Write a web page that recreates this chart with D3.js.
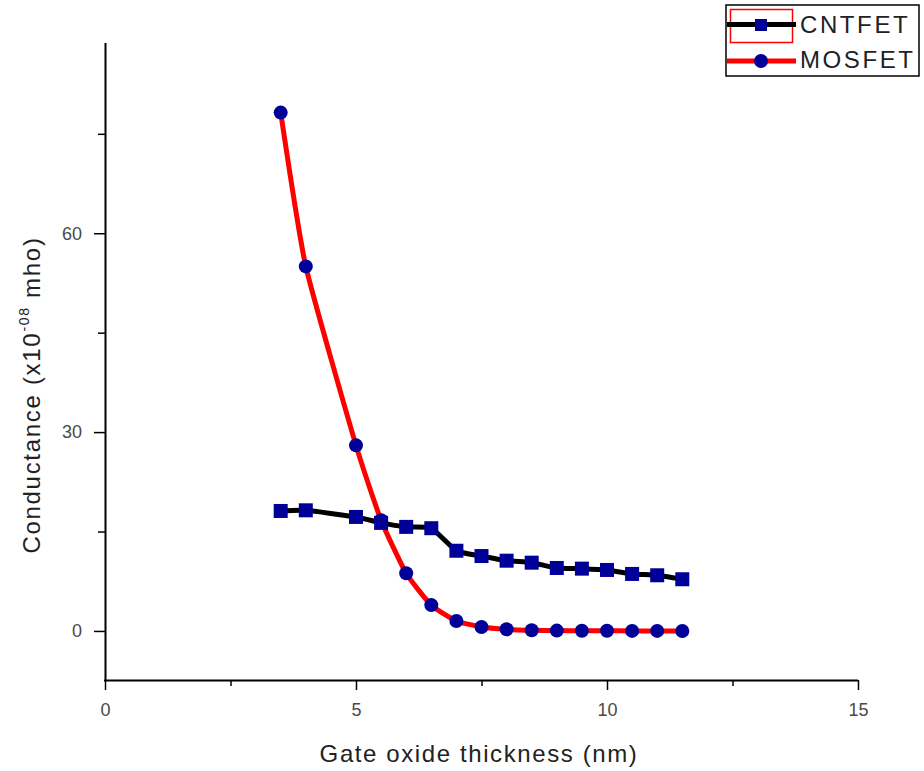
<!DOCTYPE html>
<html>
<head>
<meta charset="utf-8">
<script src="https://cdn.jsdelivr.net/npm/d3@7"></script>
<style>
  body { margin: 0; background: #fff; }
  svg { display: block; font-family: "Liberation Sans", Arial, sans-serif; }
</style>
</head>
<body>
<svg id="chart" width="924" height="771"></svg>
<script>
const thickness = [3.5, 4, 5, 5.5, 6, 6.5, 7, 7.5, 8, 8.5, 9, 9.5, 10, 10.5, 11, 11.5];
const cntfet = [18.1, 18.2, 17.2, 16.3, 15.7, 15.5, 12.1, 11.3, 10.6, 10.3, 9.5, 9.4, 9.2, 8.6, 8.4, 7.8];
const mosfet = [78.2, 55.0, 28.0, 16.7, 8.7, 3.9, 1.5, 0.6, 0.25, 0.1, 0.05, 0.03, 0.02, 0.01, 0.01, 0.0];
const xMajorTicks = [0, 5, 10, 15];
const xMinorTicks = [2.5, 7.5, 12.5];
const yMajorTicks = [0, 30, 60];
const yMinorTicks = [15, 45, 75];
const seriesNames = ["CNTFET", "MOSFET"];

const svg = d3.select("#chart");
const pL = 105, pR = 858, pT = 43, pB = 680;

const x = d3.scaleLinear().domain([0, 15]).range([pL, pR]);
const y = d3.scaleLinear().domain([-7.4, 88.7]).range([pB, pT]);

// axes
const axisColor = "#000";
const xAxis = svg.append("g").attr("transform", `translate(0,${pB})`)
  .call(d3.axisBottom(x).tickValues(xMajorTicks).tickSize(10).tickPadding(3).tickFormat(d3.format("d")));
svg.append("g").attr("transform", `translate(0,${pB})`)
  .call(d3.axisBottom(x).tickValues(xMinorTicks).tickSize(6).tickFormat(""))
  .select(".domain").remove();
const yAxis = svg.append("g").attr("transform", `translate(${pL},0)`)
  .call(d3.axisLeft(y).tickValues(yMajorTicks).tickSize(11).tickPadding(12).tickFormat(d3.format("d")));
svg.append("g").attr("transform", `translate(${pL},0)`)
  .call(d3.axisLeft(y).tickValues(yMinorTicks).tickSize(7).tickFormat(""))
  .select(".domain").remove();

xAxis.select(".domain").attr("d", `M${pL - 1},0.5H${pR}`).attr("stroke", axisColor).attr("stroke-width", 2);
yAxis.select(".domain").attr("d", `M0.5,${pT}V${pB}`).attr("stroke", axisColor).attr("stroke-width", 2);
svg.selectAll(".tick line").attr("stroke", axisColor).attr("stroke-width", 1.5);
xAxis.selectAll(".tick text").attr("font-size", 18).attr("fill", "#4a4a4a").attr("dy", "1.25em")
  .attr("font-family", "Liberation Sans, Arial, sans-serif");
yAxis.selectAll(".tick text").attr("font-size", 18).attr("fill", "#4a4a4a")
  .attr("font-family", "Liberation Sans, Arial, sans-serif");

// axis titles
svg.append("text").attr("x", 479).attr("y", 762)
  .attr("text-anchor", "middle").attr("font-size", 24).attr("letter-spacing", 1.6).attr("fill", "#222")
  .text("Gate oxide thickness (nm)");
const yt = svg.append("text")
  .attr("transform", `translate(40,395) rotate(-90)`)
  .attr("text-anchor", "middle").attr("font-size", 24).attr("letter-spacing", 1.7).attr("fill", "#222");
yt.append("tspan").text("Conductance (x10");
yt.append("tspan").attr("font-size", 14).attr("dy", -11).text("-08");
yt.append("tspan").attr("dy", 11).text(" mho)");

// lines
const line = (vals) => d3.line()
  .x((d, i) => x(thickness[i]))
  .y(d => y(d))
  .curve(d3.curveCardinal.tension(0.5))(vals);

svg.append("path").attr("d", line(cntfet)).attr("fill", "none")
  .attr("stroke", "#000").attr("stroke-width", 5);
svg.append("path").attr("d", line(mosfet)).attr("fill", "none")
  .attr("stroke", "#ff0000").attr("stroke-width", 5);

const markerColor = "#000099";
svg.append("g").selectAll("rect").data(cntfet).join("rect")
  .attr("x", (d, i) => x(thickness[i]) - 7)
  .attr("y", d => y(d) - 7)
  .attr("width", 14).attr("height", 14)
  .attr("fill", markerColor);
svg.append("g").selectAll("circle").data(mosfet).join("circle")
  .attr("cx", (d, i) => x(thickness[i]))
  .attr("cy", d => y(d))
  .attr("r", 7)
  .attr("fill", markerColor);

// legend
const lg = svg.append("g");
lg.append("rect").attr("x", 726).attr("y", 5).attr("width", 193).attr("height", 71)
  .attr("fill", "#fff").attr("stroke", "#000").attr("stroke-width", 1.5);
lg.append("rect").attr("x", 730.5).attr("y", 9.5).attr("width", 62).attr("height", 33)
  .attr("fill", "none").attr("stroke", "#ff0000").attr("stroke-width", 1.5);
lg.append("line").attr("x1", 727).attr("x2", 796).attr("y1", 24.5).attr("y2", 24.5)
  .attr("stroke", "#000").attr("stroke-width", 5);
lg.append("rect").attr("x", 755).attr("y", 19).attr("width", 12).attr("height", 12).attr("fill", markerColor);
lg.append("line").attr("x1", 727).attr("x2", 796).attr("y1", 61).attr("y2", 61)
  .attr("stroke", "#ff0000").attr("stroke-width", 5);
lg.append("circle").attr("cx", 761).attr("cy", 61).attr("r", 7).attr("fill", markerColor);
lg.selectAll("text.lbl").data(seriesNames).join("text").attr("class", "lbl")
  .attr("x", 800).attr("y", (d, i) => 33 + i * 35)
  .attr("font-size", 24).attr("fill", "#222").attr("letter-spacing", 2.6)
  .text(d => d);
</script>
</body>
</html>
